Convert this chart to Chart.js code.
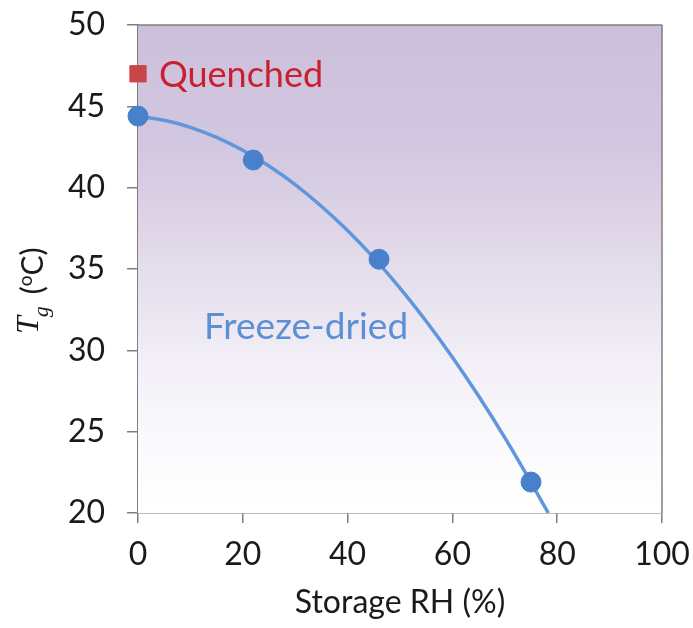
<!DOCTYPE html>
<html>
<head>
<meta charset="utf-8">
<script src="https://cdn.jsdelivr.net/npm/chart.js@4.4.1/dist/chart.umd.min.js"></script>
<style>
html,body{margin:0;padding:0;background:#fff;}
#wrap{width:693px;height:628px;}
</style>
</head>
<body>
<div id="wrap"><canvas id="c" width="693" height="628"></canvas></div>
<script>
// ---- data ----
const storageRH = [0, 22, 46, 75];
const tgFreezeDried = [44.4, 41.7, 35.6, 21.9];
const quenchedRH = [0];
const tgQuenched = [47.0];
// fitted trend curve as drawn in the reference
const trendRH = [0, 5, 10, 15, 20, 25, 30, 35, 40, 45, 50, 55, 60, 65, 70, 75, 78.3];
const trendTg = [44.4, 44.14, 43.71, 43.09, 42.3, 41.33, 40.19, 38.86, 37.36, 35.68, 33.83, 31.79, 29.58, 27.19, 24.63, 21.88, 20.0];
const xTicks = [0, 20, 40, 60, 80, 100];
const yTicks = [20, 25, 30, 35, 40, 45, 50];
const labelQuenched = "Quenched";
const labelFreeze = "Freeze-dried";
const xTitle = "Storage RH (%)";

const AXIS = '#7f7f7f';
const TXT = '#1a1a1a';

function noOverflow(s) {
  s.paddingTop = 0; s.paddingBottom = 0; s.paddingLeft = 0; s.paddingRight = 0;
}

const bgPlugin = {
  id: 'bg',
  beforeDatasetsDraw(chart) {
    const {ctx, chartArea: a} = chart;
    const g = ctx.createLinearGradient(0, a.top, 0, a.bottom);
    g.addColorStop(0, 'rgb(204,191,219)');
    g.addColorStop(0.25, 'rgb(210,199,224)');
    g.addColorStop(0.5, 'rgb(228,221,235)');
    g.addColorStop(0.7, 'rgb(243,240,247)');
    g.addColorStop(0.85, 'rgb(250,250,253)');
    g.addColorStop(1, 'rgb(255,255,255)');
    ctx.save();
    ctx.fillStyle = g;
    ctx.fillRect(a.left, a.top, a.right - a.left, a.bottom - a.top);
    ctx.strokeStyle = AXIS;
    ctx.lineWidth = 1.5;
    ctx.beginPath();
    ctx.moveTo(a.left, a.top); ctx.lineTo(a.right, a.top);
    ctx.moveTo(a.right, a.top); ctx.lineTo(a.right, a.bottom);
    ctx.stroke();
    ctx.restore();
  },
  afterDatasetsDraw(chart) {
    const {ctx, scales: {x, y}} = chart;
    ctx.save();
    ctx.textBaseline = 'middle';
    ctx.textAlign = 'left';
    ctx.font = '36px Lato';
    ctx.fillStyle = 'rgb(200,32,46)';
    ctx.fillText(labelQuenched, x.getPixelForValue(4.0), y.getPixelForValue(46.9));
    ctx.font = '37px Lato';
    ctx.fillStyle = 'rgb(91,143,214)';
    ctx.fillText(labelFreeze, x.getPixelForValue(12.6), y.getPixelForValue(31.4));
    ctx.restore();
  },
  afterDraw(chart) {
    // y-axis title: T_g (oC), rotated
    const ctx = chart.ctx;
    ctx.save();
    ctx.translate(40, 334);
    ctx.rotate(-Math.PI / 2);
    ctx.fillStyle = TXT;
    ctx.textBaseline = 'alphabetic';
    ctx.textAlign = 'left';
    let u = 0;
    ctx.font = 'italic 32px "Liberation Serif"';
    ctx.fillText('T', u, -2);
    u += ctx.measureText('T').width - 1;
    ctx.font = 'italic 22px "Liberation Serif"';
    ctx.fillText('g', u, 8);
    u += ctx.measureText('g').width + 12;
    ctx.font = '30px Lato';
    ctx.fillText('(', u, 3);
    u += ctx.measureText('(').width;
    ctx.font = '19px Lato';
    ctx.fillText('o', u, -8);
    u += ctx.measureText('o').width;
    ctx.font = '30px Lato';
    ctx.fillText('C)', u, 3);
    ctx.restore();
  }
};

new Chart(document.getElementById('c'), {
  type: 'scatter',
  data: {
    datasets: [
      {
        label: 'trend',
        data: trendRH.map((v, i) => ({x: v, y: trendTg[i]})),
        showLine: true,
        borderColor: 'rgb(96,150,220)',
        borderWidth: 3.5,
        pointRadius: 0,
        cubicInterpolationMode: 'monotone',
        order: 2,
        clip: false
      },
      {
        label: labelFreeze,
        data: storageRH.map((v, i) => ({x: v, y: tgFreezeDried[i]})),
        backgroundColor: 'rgb(72,128,203)',
        borderColor: 'rgb(72,128,203)',
        pointRadius: 10,
        pointHoverRadius: 10,
        order: 1,
        clip: false
      },
      {
        label: labelQuenched,
        data: quenchedRH.map((v, i) => ({x: v, y: tgQuenched[i]})),
        pointStyle: 'rect',
        backgroundColor: 'rgb(200,70,70)',
        borderColor: 'rgb(200,70,70)',
        pointRadius: 11.5,
        pointHoverRadius: 11.5,
        order: 0,
        clip: false
      }
    ]
  },
  options: {
    responsive: false,
    devicePixelRatio: 1,
    animation: false,
    layout: {padding: {top: 25, right: 31, left: 0, bottom: 0}},
    plugins: {legend: {display: false}, tooltip: {enabled: false}},
    scales: {
      x: {
        type: 'linear',
        min: 0, max: 100,
        afterBuildTicks(s) { s.ticks = xTicks.map(v => ({value: v})); },
        afterFit(s) { s.height = 115; noOverflow(s); },
        grid: {drawOnChartArea: false, drawTicks: true, tickLength: 10, color: AXIS, lineWidth: 1.5},
        border: {display: true, color: AXIS, width: 1.5},
        ticks: {font: {family: 'Lato', size: 32}, color: TXT, padding: 12, maxRotation: 0},
        title: {display: true, text: xTitle, font: {family: 'Lato', size: 32}, color: TXT, padding: {top: 0, bottom: 6}}
      },
      y: {
        type: 'linear',
        min: 20, max: 50,
        afterBuildTicks(s) { s.ticks = yTicks.map(v => ({value: v})); },
        afterFit(s) { s.width = 138; noOverflow(s); },
        grid: {drawOnChartArea: false, drawTicks: true, tickLength: 11, color: AXIS, lineWidth: 1.5},
        border: {display: true, color: AXIS, width: 1.5},
        ticks: {font: {family: 'Lato', size: 32}, color: TXT, padding: 22}
      }
    }
  },
  plugins: [bgPlugin]
});
</script>
</body>
</html>
